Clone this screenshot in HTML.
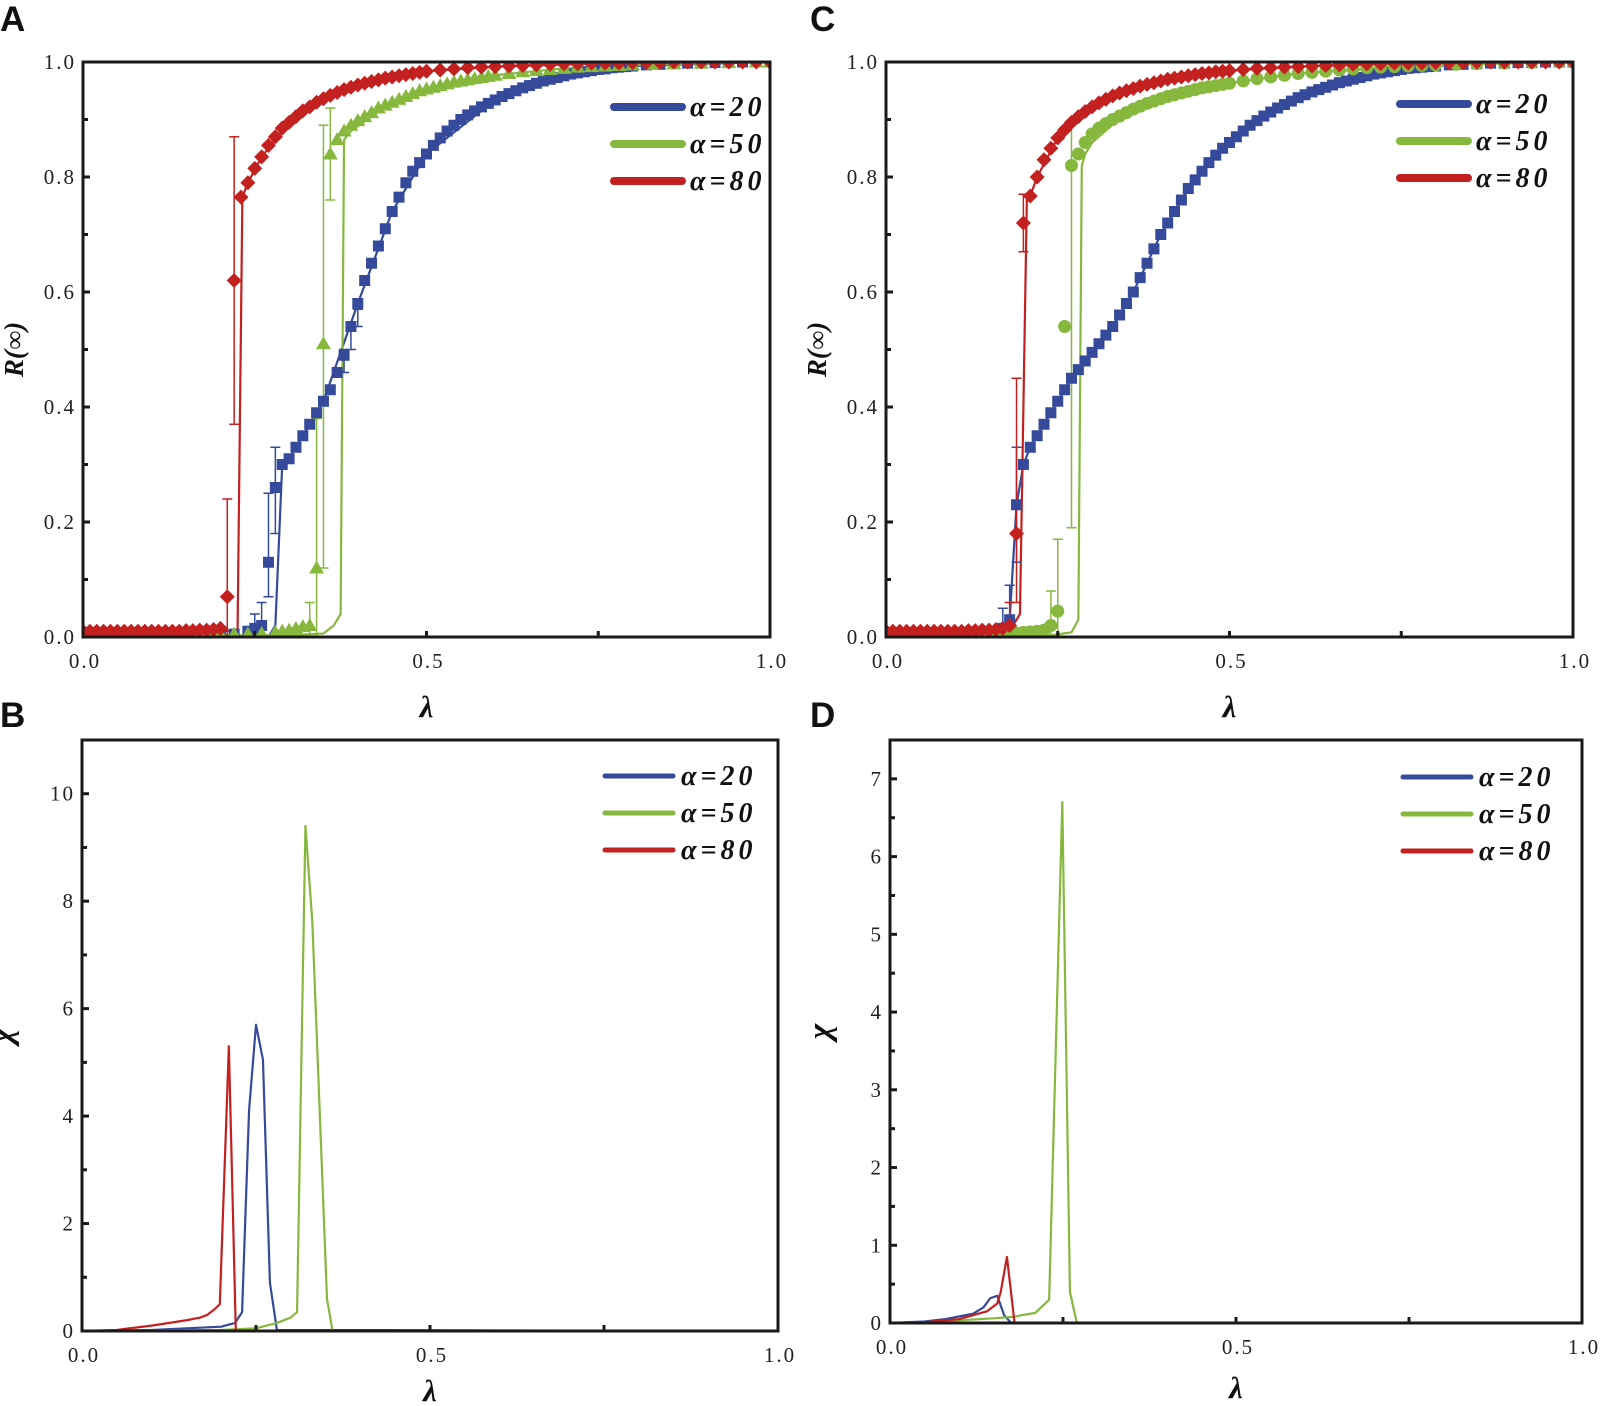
<!DOCTYPE html>
<html><head><meta charset="utf-8"><style>
html,body{margin:0;padding:0;background:#fff}
svg{display:block}
text{font-family:"Liberation Serif",serif}
</style></head><body>
<svg id="fig" width="1600" height="1406" viewBox="0 0 1600 1406" xmlns="http://www.w3.org/2000/svg"></svg>
<script>
// ---------- data ----------
// Panel A (R vs lambda)
const aBlueLam=[0,0.02,0.04,0.06,0.08,0.10,0.12,0.14,0.16,0.18,0.20,0.22,0.24,0.25,0.26,0.27,0.28,0.29,0.30,0.31,0.32,0.33,0.34,0.35,0.36,0.37,0.38,0.39,0.40,0.41,0.42,0.43,0.44,0.45,0.46,0.47,0.48,0.49,0.50,0.51,0.52,0.53,0.54,0.55,0.56,0.57,0.58,0.59,0.60,0.61,0.62,0.63,0.64,0.65,0.66,0.67,0.68,0.69,0.70,0.71,0.72,0.73,0.74,0.75,0.76,0.77,0.78,0.79,0.80,0.82,0.84,0.86,0.88,0.90,0.92,0.94,0.96,0.98,1.0];
const aBlueR=[0,0,0,0,0,0,0,0,0,0,0,0.005,0.01,0.015,0.02,0.13,0.26,0.30,0.31,0.33,0.35,0.37,0.39,0.41,0.43,0.46,0.49,0.54,0.58,0.62,0.65,0.68,0.71,0.74,0.765,0.79,0.81,0.825,0.84,0.855,0.868,0.88,0.89,0.90,0.908,0.915,0.922,0.928,0.934,0.94,0.945,0.95,0.955,0.959,0.963,0.967,0.97,0.973,0.976,0.979,0.981,0.983,0.985,0.987,0.988,0.99,0.991,0.992,0.993,0.995,0.996,0.997,0.998,0.998,0.999,0.999,1,1,1];
const aBlueLineLam=[0,0.27,0.28,0.29,0.30,0.35,0.40,0.45,0.50,0.60,0.70,0.80,1.0];
const aBlueLineR=[0,0,0.02,0.30,0.31,0.41,0.58,0.74,0.84,0.934,0.976,0.993,1];
const aGreenLam=[0,0.02,0.04,0.06,0.08,0.10,0.12,0.14,0.16,0.18,0.20,0.22,0.24,0.26,0.28,0.29,0.30,0.31,0.32,0.33,0.34,0.35,0.36,0.37,0.38,0.39,0.40,0.41,0.42,0.43,0.44,0.45,0.46,0.47,0.48,0.49,0.50,0.51,0.52,0.53,0.54,0.55,0.56,0.57,0.58,0.59,0.60,0.62,0.64,0.66,0.68,0.70,0.72,0.74,0.76,0.78,0.80,0.83,0.86,0.90,0.94,0.98,1.0];
const aGreenR=[0.005,0.005,0.005,0.005,0.005,0.005,0.005,0.005,0.005,0.005,0.005,0.005,0.005,0.006,0.008,0.01,0.012,0.015,0.018,0.02,0.12,0.51,0.84,0.865,0.88,0.89,0.898,0.905,0.912,0.92,0.925,0.93,0.935,0.94,0.945,0.95,0.953,0.956,0.959,0.962,0.965,0.967,0.969,0.971,0.973,0.975,0.977,0.98,0.983,0.985,0.987,0.989,0.991,0.992,0.993,0.994,0.995,0.996,0.997,0.998,0.999,1,1];
const aGreenLineLam=[0,0.30,0.35,0.365,0.375,0.38,0.39,0.45,0.50,0.60,0.70,0.80,1.0];
const aGreenLineR=[0.003,0.003,0.006,0.02,0.04,0.865,0.88,0.93,0.953,0.977,0.989,0.995,1];
const aRedLam=[0,0.01,0.02,0.03,0.04,0.05,0.06,0.07,0.08,0.09,0.10,0.11,0.12,0.13,0.14,0.15,0.16,0.17,0.18,0.19,0.20,0.21,0.22,0.23,0.24,0.25,0.26,0.27,0.28,0.29,0.30,0.31,0.32,0.33,0.34,0.35,0.36,0.37,0.38,0.39,0.40,0.41,0.42,0.43,0.44,0.45,0.46,0.47,0.48,0.49,0.50,0.52,0.54,0.56,0.58,0.60,0.62,0.64,0.66,0.68,0.70,0.72,0.74,0.76,0.78,0.80,0.82,0.84,0.86,0.88,0.90,0.92,0.94,0.96,0.98,1.0];
const aRedR=[0.01,0.01,0.01,0.01,0.01,0.01,0.01,0.01,0.01,0.01,0.01,0.01,0.01,0.01,0.01,0.011,0.011,0.012,0.012,0.013,0.015,0.07,0.62,0.765,0.79,0.815,0.835,0.855,0.87,0.885,0.895,0.905,0.915,0.922,0.93,0.936,0.942,0.947,0.952,0.956,0.96,0.963,0.966,0.969,0.972,0.974,0.976,0.978,0.98,0.982,0.984,0.986,0.988,0.99,0.991,0.992,0.993,0.994,0.995,0.996,0.997,0.997,0.998,0.998,0.998,0.999,0.999,0.999,1,1,1,1,1,1,1,1];
const aRedLineLam=[0,0.20,0.225,0.232,0.24,0.26,0.30,0.35,0.40,0.50,0.60,0.80,1.0];
const aRedLineR=[0.01,0.01,0.012,0.765,0.79,0.835,0.895,0.936,0.96,0.984,0.992,0.999,1];
const aBlueErrLam=[0.25,0.26,0.27,0.28,0.38,0.39,0.40];
const aBlueErrLo=[0.0,0.0,0.07,0.18,0.46,0.50,0.54];
const aBlueErrHi=[0.04,0.06,0.25,0.33,0.50,0.54,0.57];
const aGreenErrLam=[0.33,0.34,0.35,0.36];
const aGreenErrLo=[0.0,0.0,0.12,0.76];
const aGreenErrHi=[0.06,0.38,0.89,0.92];
const aRedErrLam=[0.21,0.22];
const aRedErrLo=[0.0,0.37];
const aRedErrHi=[0.24,0.87];

// Panel C
const cBlueLam=[0,0.02,0.04,0.06,0.08,0.10,0.12,0.14,0.16,0.17,0.18,0.19,0.20,0.21,0.22,0.23,0.24,0.25,0.26,0.27,0.28,0.29,0.30,0.31,0.32,0.33,0.34,0.35,0.36,0.37,0.38,0.39,0.40,0.41,0.42,0.43,0.44,0.45,0.46,0.47,0.48,0.49,0.50,0.51,0.52,0.53,0.54,0.55,0.56,0.57,0.58,0.59,0.60,0.61,0.62,0.63,0.64,0.65,0.66,0.67,0.68,0.69,0.70,0.71,0.72,0.73,0.74,0.75,0.76,0.77,0.78,0.79,0.80,0.82,0.84,0.86,0.88,0.90,0.92,0.94,0.96,0.98,1.0];
const cBlueR=[0,0,0,0,0,0,0,0.005,0.01,0.015,0.03,0.23,0.30,0.33,0.35,0.37,0.39,0.41,0.43,0.45,0.465,0.48,0.495,0.51,0.525,0.54,0.56,0.58,0.60,0.625,0.65,0.675,0.70,0.72,0.74,0.76,0.78,0.795,0.81,0.825,0.838,0.85,0.86,0.87,0.88,0.89,0.898,0.906,0.913,0.92,0.926,0.932,0.938,0.943,0.948,0.952,0.956,0.96,0.964,0.967,0.97,0.973,0.976,0.979,0.981,0.983,0.985,0.987,0.989,0.99,0.991,0.992,0.993,0.995,0.996,0.997,0.998,0.998,0.999,0.999,1,1,1];
const cGreenLam=[0,0.02,0.04,0.06,0.08,0.10,0.12,0.14,0.16,0.18,0.19,0.20,0.21,0.22,0.23,0.24,0.25,0.26,0.27,0.28,0.29,0.30,0.31,0.32,0.33,0.34,0.35,0.36,0.37,0.38,0.39,0.40,0.41,0.42,0.43,0.44,0.45,0.46,0.47,0.48,0.49,0.50,0.52,0.54,0.56,0.58,0.60,0.62,0.64,0.66,0.68,0.70,0.72,0.74,0.76,0.78,0.80,0.83,0.86,0.90,0.94,0.98,1.0];
const cGreenR=[0.005,0.005,0.005,0.005,0.005,0.005,0.005,0.005,0.005,0.006,0.007,0.008,0.009,0.01,0.012,0.02,0.045,0.54,0.82,0.84,0.86,0.875,0.885,0.893,0.9,0.906,0.912,0.918,0.923,0.928,0.932,0.936,0.94,0.943,0.946,0.949,0.952,0.955,0.957,0.959,0.961,0.963,0.967,0.971,0.974,0.977,0.98,0.982,0.984,0.986,0.988,0.99,0.991,0.992,0.993,0.994,0.995,0.996,0.997,0.998,0.999,1,1];
const cGreenLineLam=[0,0.24,0.27,0.28,0.285,0.29,0.30,0.35,0.40,0.50,0.60,0.80,1.0];
const cGreenLineR=[0.003,0.003,0.008,0.03,0.82,0.84,0.86,0.912,0.94,0.963,0.98,0.995,1];
const cRedLam=[0,0.01,0.02,0.03,0.04,0.05,0.06,0.07,0.08,0.09,0.10,0.11,0.12,0.13,0.14,0.15,0.16,0.17,0.18,0.19,0.20,0.21,0.22,0.23,0.24,0.25,0.26,0.27,0.28,0.29,0.30,0.31,0.32,0.33,0.34,0.35,0.36,0.37,0.38,0.39,0.40,0.41,0.42,0.43,0.44,0.45,0.46,0.47,0.48,0.49,0.50,0.52,0.54,0.56,0.58,0.60,0.62,0.64,0.66,0.68,0.70,0.72,0.74,0.76,0.78,0.80,0.82,0.84,0.86,0.88,0.90,0.92,0.94,0.96,0.98,1.0];
const cRedR=[0.01,0.01,0.01,0.01,0.01,0.01,0.01,0.01,0.01,0.01,0.01,0.01,0.011,0.011,0.012,0.012,0.013,0.015,0.02,0.18,0.72,0.767,0.80,0.83,0.85,0.868,0.882,0.895,0.905,0.914,0.922,0.929,0.935,0.941,0.946,0.95,0.954,0.958,0.961,0.964,0.967,0.97,0.972,0.974,0.976,0.978,0.98,0.981,0.983,0.984,0.985,0.987,0.989,0.99,0.991,0.992,0.993,0.994,0.995,0.996,0.997,0.997,0.998,0.998,0.998,0.999,0.999,0.999,1,1,1,1,1,1,1,1];
const cRedLineLam=[0,0.18,0.195,0.205,0.21,0.22,0.25,0.30,0.40,0.50,0.60,0.80,1.0];
const cRedLineR=[0.01,0.01,0.04,0.76,0.767,0.80,0.868,0.922,0.967,0.985,0.992,0.999,1];
const cBlueErrLam=[0.17,0.18,0.19];
const cBlueErrLo=[0.0,0.0,0.13];
const cBlueErrHi=[0.05,0.09,0.33];
const cGreenErrLam=[0.24,0.25,0.27];
const cGreenErrLo=[0.0,0.0,0.19];
const cGreenErrHi=[0.08,0.17,0.89];
const cRedErrLam=[0.18,0.19,0.20];
const cRedErrLo=[0.0,0.06,0.67];
const cRedErrHi=[0.06,0.45,0.77];

// Panel B (chi)
const bBlueLam=[0,0.10,0.15,0.20,0.22,0.23,0.24,0.25,0.26,0.27,0.28,1.0];
const bBlueChi=[0,0.02,0.05,0.08,0.15,0.35,4.1,5.7,5.05,0.9,0.02,0];
const bGreenLam=[0,0.20,0.25,0.28,0.30,0.309,0.321,0.331,0.352,0.36,1.0];
const bGreenChi=[0,0.02,0.05,0.15,0.25,0.35,9.4,7.6,0.6,0,0];
const bRedLam=[0,0.05,0.10,0.15,0.17,0.18,0.19,0.198,0.211,0.221,1.0];
const bRedChi=[0,0.02,0.1,0.2,0.25,0.3,0.4,0.5,5.3,0,0];
// Panel D (chi)
const dBlueLam=[0,0.05,0.08,0.12,0.135,0.145,0.155,0.165,0.175,1.0];
const dBlueChi=[0,0.02,0.05,0.12,0.2,0.32,0.35,0.1,0,0];
const dGreenLam=[0,0.05,0.15,0.18,0.19,0.21,0.23,0.249,0.26,0.27,1.0];
const dGreenChi=[0,0.01,0.06,0.08,0.1,0.13,0.3,6.7,0.4,0,0];
const dRedLam=[0,0.05,0.10,0.14,0.155,0.16,0.169,0.18,1.0];
const dRedChi=[0,0.01,0.05,0.15,0.25,0.4,0.85,0,0];

const BLUE='#364a9b',GREEN='#86b83e',RED='#c32020';
const NS='http://www.w3.org/2000/svg';
const svg=document.getElementById('fig');
function el(tag,attrs,parent){const e=document.createElementNS(NS,tag);for(const k in attrs)e.setAttribute(k,attrs[k]);(parent||svg).appendChild(e);return e;}

function makePanel(p){
  const g=el('g',{});
  
  
  const sx=v=>p.x0+(p.x1-p.x0)*v;
  const sy=v=>p.y0-(p.y0-p.yt)*(v-p.ymin)/(p.ymax-p.ymin);
  const clip='clip'+p.id;
  const cp=el('clipPath',{id:clip},g);el('rect',{x:p.x0,y:p.yt,width:p.x1-p.x0,height:p.y0-p.yt},cp);
  const plot=el('g',{'clip-path':'url(#'+clip+')'},g);
  
  
  p.lines.forEach(s=>{
    const pl=el('polyline',{points:s.lam.map((l,i)=>sx(l)+','+sy(s.v[i])).join(' '),fill:'none',stroke:s.c,'stroke-width':p.lw,'stroke-linejoin':'round'},plot);
    
    
  });
  (p.errs||[]).forEach(s=>{
    s.lam.forEach((l,i)=>{
      const x=sx(l),a=sy(s.lo[i]),b=sy(s.hi[i]);
      const eg=el('path',{d:`M${x},${a}V${b}M${x-5},${a}H${x+5}M${x-5},${b}H${x+5}`,stroke:s.c,'stroke-width':1.5,fill:'none'},plot);
      
      
    });
  });
  (p.marks||[]).forEach(s=>{
    s.lam.forEach((l,i)=>{
      const x=sx(l),y=sy(s.v[i]);let m;
      if(s.shape==='sq')m=el('rect',{x:x-5.5,y:y-5.5,width:11,height:11,fill:s.c},plot);
      else if(s.shape==='di')m=el('path',{d:`M${x},${y-7.5}L${x+7.5},${y}L${x},${y+7.5}L${x-7.5},${y}Z`,fill:s.c},plot);
      else if(s.shape==='tr')m=el('path',{d:`M${x},${y-7.5}L${x+7.5},${y+5.5}L${x-7.5},${y+5.5}Z`,fill:s.c},plot);
      else m=el('circle',{cx:x,cy:y,r:6.5,fill:s.c},plot);
      
      
    });
  });
  const fr=el('rect',{x:p.x0,y:p.yt,width:p.x1-p.x0,height:p.y0-p.yt,fill:'none',stroke:'#1a1a1a','stroke-width':3},g);
  
  
  p.yTicks.forEach((t,i)=>{
    const y=sy(t);
    el('line',{x1:p.x0,x2:p.x0+7,y1:y,y2:y,stroke:'#1a1a1a','stroke-width':3},g);
    const tx=el('text',{x:p.x0-7,y:y+7,'text-anchor':'end','font-size':21,'letter-spacing':2,fill:'#222'},g);
    tx.textContent=p.yLabels[i];
    
    
  });
  p.yMinor.forEach(t=>{const y=sy(t);el('line',{x1:p.x0,x2:p.x0+5,y1:y,y2:y,stroke:'#1a1a1a','stroke-width':3},g);});
  [0.25,0.5,0.75].forEach(t=>el('line',{x1:sx(t),x2:sx(t),y1:p.y0,y2:p.y0-6,stroke:'#1a1a1a','stroke-width':3},g));
  ['0.0','0.5','1.0'].forEach((lab,i)=>{
    const tx=el('text',{x:sx(i*0.5)+2,y:p.y0+31,'text-anchor':'middle','font-size':21,'letter-spacing':2,fill:'#222'},g);
    tx.textContent=lab;
    
    
  });
  const xl=el('text',{x:(p.x0+p.x1)/2,y:p.y0+p.xlOff,'text-anchor':'middle','font-size':31,'font-weight':'bold','font-style':'italic',fill:'#111'},g);
  xl.textContent='λ';
  
  
  const yl=el('text',{x:0,y:0,transform:`translate(${p.x0-p.ylOff},${(p.yt+p.y0)/2}) rotate(-90)`,'text-anchor':'middle','font-size':p.ylSize,'font-weight':'bold','font-style':'italic',fill:'#111'},g);
  yl.textContent=p.ylabel;
  
  
  const pl=el('text',{x:p.lx,y:p.ly,'font-size':35,'font-weight':'bold',fill:'#111'},g);
  pl.setAttribute('style','font-family:"Liberation Sans",sans-serif');
  pl.textContent=p.id;
  
  
  const lg=el('g',{},g);
  
  
  [['α=20',BLUE],['α=50',GREEN],['α=80',RED]].forEach((e,i)=>{
    const y=p.legY+i*p.legDy;
    const ent=el('g',{},lg);
    
    
    el('line',{x1:p.legX,x2:p.legX+68,y1:y,y2:y,stroke:e[1],'stroke-width':p.legW,'stroke-linecap':'round'},ent);
    const t=el('text',{x:p.legX+76,y:y+9,'font-size':28,'font-weight':'bold','font-style':'italic','letter-spacing':4,fill:'#111'},ent);
    t.textContent=e[0];
  });
}

makePanel({id:'A',x0:83,x1:770,yt:62,y0:637,ymin:0,ymax:1,lw:2.2,
  yTicks:[0,0.2,0.4,0.6,0.8,1.0],yLabels:['0.0','0.2','0.4','0.6','0.8','1.0'],yMinor:[0.1,0.3,0.5,0.7,0.9],
  ylabel:'R(∞)',ylOff:60,ylSize:27,xlOff:80,lx:0,ly:31,legX:614,legY:107,legDy:37,legW:8,
  lines:[{lam:aBlueLineLam,v:aBlueLineR,c:BLUE,name:'line-alpha20'},{lam:aGreenLineLam,v:aGreenLineR,c:GREEN,name:'line-alpha50'},{lam:aRedLineLam,v:aRedLineR,c:RED,name:'line-alpha80'}],
  errs:[{lam:aBlueErrLam,lo:aBlueErrLo,hi:aBlueErrHi,c:BLUE},{lam:aGreenErrLam,lo:aGreenErrLo,hi:aGreenErrHi,c:GREEN},{lam:aRedErrLam,lo:aRedErrLo,hi:aRedErrHi,c:RED}],
  marks:[{lam:aBlueLam,v:aBlueR,c:BLUE,shape:'sq',name:'alpha20'},{lam:aGreenLam,v:aGreenR,c:GREEN,shape:'tr',name:'alpha50'},{lam:aRedLam,v:aRedR,c:RED,shape:'di',name:'alpha80'}]});
makePanel({id:'C',x0:886,x1:1573,yt:62,y0:637,ymin:0,ymax:1,lw:2.2,
  yTicks:[0,0.2,0.4,0.6,0.8,1.0],yLabels:['0.0','0.2','0.4','0.6','0.8','1.0'],yMinor:[0.1,0.3,0.5,0.7,0.9],
  ylabel:'R(∞)',ylOff:60,ylSize:27,xlOff:80,lx:810,ly:31,legX:1400,legY:104,legDy:37,legW:8,
  lines:[{lam:cBlueLam,v:cBlueR,c:BLUE,name:'line-alpha20'},{lam:cGreenLineLam,v:cGreenLineR,c:GREEN,name:'line-alpha50'},{lam:cRedLineLam,v:cRedLineR,c:RED,name:'line-alpha80'}],
  errs:[{lam:cBlueErrLam,lo:cBlueErrLo,hi:cBlueErrHi,c:BLUE},{lam:cGreenErrLam,lo:cGreenErrLo,hi:cGreenErrHi,c:GREEN},{lam:cRedErrLam,lo:cRedErrLo,hi:cRedErrHi,c:RED}],
  marks:[{lam:cBlueLam,v:cBlueR,c:BLUE,shape:'sq',name:'alpha20'},{lam:cGreenLam,v:cGreenR,c:GREEN,shape:'ci',name:'alpha50'},{lam:cRedLam,v:cRedR,c:RED,shape:'di',name:'alpha80'}]});
makePanel({id:'B',x0:82,x1:778,yt:740,y0:1331,ymin:0,ymax:11,lw:2.2,
  yTicks:[0,2,4,6,8,10],yLabels:['0','2','4','6','8','10'],yMinor:[1,3,5,7,9],
  ylabel:'χ',ylOff:70,ylSize:33,xlOff:70,lx:0,ly:727,legX:605,legY:776,legDy:37,legW:5,
  lines:[{lam:bBlueLam,v:bBlueChi,c:BLUE,name:'chi-alpha20'},{lam:bGreenLam,v:bGreenChi,c:GREEN,name:'chi-alpha50'},{lam:bRedLam,v:bRedChi,c:RED,name:'chi-alpha80'}]});
makePanel({id:'D',x0:890,x1:1582,yt:740,y0:1323,ymin:0,ymax:7.5,lw:2.2,
  yTicks:[0,1,2,3,4,5,6,7],yLabels:['0','1','2','3','4','5','6','7'],yMinor:[0.5,1.5,2.5,3.5,4.5,5.5,6.5],
  ylabel:'χ',ylOff:60,ylSize:33,xlOff:75,lx:810,ly:727,legX:1403,legY:777,legDy:37,legW:5,
  lines:[{lam:dBlueLam,v:dBlueChi,c:BLUE,name:'chi-alpha20'},{lam:dGreenLam,v:dGreenChi,c:GREEN,name:'chi-alpha50'},{lam:dRedLam,v:dRedChi,c:RED,name:'chi-alpha80'}]});
</script>
</body></html>
